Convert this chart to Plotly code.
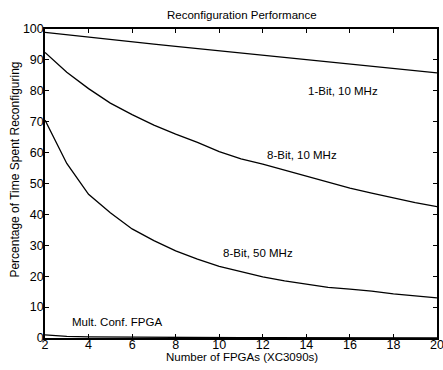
import plotly.graph_objects as go

n_fpgas = list(range(2, 21))
one_bit_10mhz = [98.9, 98.1, 97.3, 96.5, 95.8, 95.1, 94.4, 93.7, 93.0, 92.3,
                 91.6, 90.9, 90.2, 89.5, 88.8, 88.1, 87.4, 86.6, 85.8]
eight_bit_10mhz = [92.4, 86.0, 80.7, 76.0, 72.3, 68.9, 66.0, 63.3, 60.3, 58.0,
                   56.3, 54.3, 52.3, 50.3, 48.5, 46.9, 45.3, 43.8, 42.5]
eight_bit_50mhz = [70.5, 56.5, 46.5, 40.5, 35.3, 31.5, 28.2, 25.5, 23.2, 21.4,
                   19.8, 18.5, 17.4, 16.4, 15.8, 15.2, 14.3, 13.6, 13.0]
mult_conf_fpga = [1.0, 0.5, 0.35, 0.28, 0.22, 0.18, 0.15, 0.13, 0.11, 0.10,
                  0.09, 0.08, 0.07, 0.07, 0.06, 0.06, 0.05, 0.05, 0.05]

series = [
    ("1-Bit, 10 MHz", one_bit_10mhz, 15.7, 80),
    ("8-Bit, 10 MHz", eight_bit_10mhz, 13.8, 59.3),
    ("8-Bit, 50 MHz", eight_bit_50mhz, 11.8, 27.6),
    ("Mult. Conf. FPGA", mult_conf_fpga, 5.3, 5.3),
]

title_text = "Reconfiguration Performance"
x_title = "Number of FPGAs (XC3090s)"
y_title = "Percentage of Time Spent Reconfiguring"

font_family = "Liberation Sans, Arial, sans-serif"
fig = go.Figure()
for name, vals, lx, ly in series:
    fig.add_trace(go.Scatter(x=n_fpgas, y=vals, mode="lines", name=name,
                             line=dict(color="black", width=1.3),
                             showlegend=False, hoverinfo="skip"))
    fig.add_annotation(x=lx, y=ly, text=name, showarrow=False,
                       font=dict(family=font_family, size=11.5, color="black"))

fig.add_annotation(xref="paper", yref="paper", x=0.5026, y=1.046, text=title_text,
                   showarrow=False, xanchor="center", yanchor="middle",
                   font=dict(family=font_family, size=11.5, color="black"))
fig.add_annotation(xref="paper", yref="paper", x=0.5026, y=-0.06, text=x_title,
                   showarrow=False, xanchor="center", yanchor="middle",
                   font=dict(family=font_family, size=11.5, color="black"))
fig.add_annotation(xref="paper", yref="paper", x=-0.0765, y=0.545, text=y_title,
                   showarrow=False, xanchor="center", yanchor="middle", textangle=-90,
                   font=dict(family=font_family, size=12, color="black"))

axis_common = dict(showline=True, linecolor="black", linewidth=1.5, mirror="ticks",
                   ticks="inside", ticklen=4, tickcolor="black", tickwidth=1,
                   showgrid=False, zeroline=False, automargin=False,
                   tickfont=dict(family=font_family, size=12.5, color="black"))

fig.update_layout(
    width=452, height=370,
    margin=dict(l=45, r=15, t=29, b=32),
    paper_bgcolor="white", plot_bgcolor="white",
    xaxis=dict(range=[2, 20], tickvals=list(range(2, 21, 2)), ticklabelstandoff=-6,
               **axis_common),
    yaxis=dict(range=[0, 100], tickvals=list(range(0, 101, 10)), ticklabelstandoff=-3,
               **axis_common),
)

fig.write_html("out.html", config={"displayModeBar": False},
               post_script="document.body.style.margin='0';document.body.style.overflow='hidden';")
